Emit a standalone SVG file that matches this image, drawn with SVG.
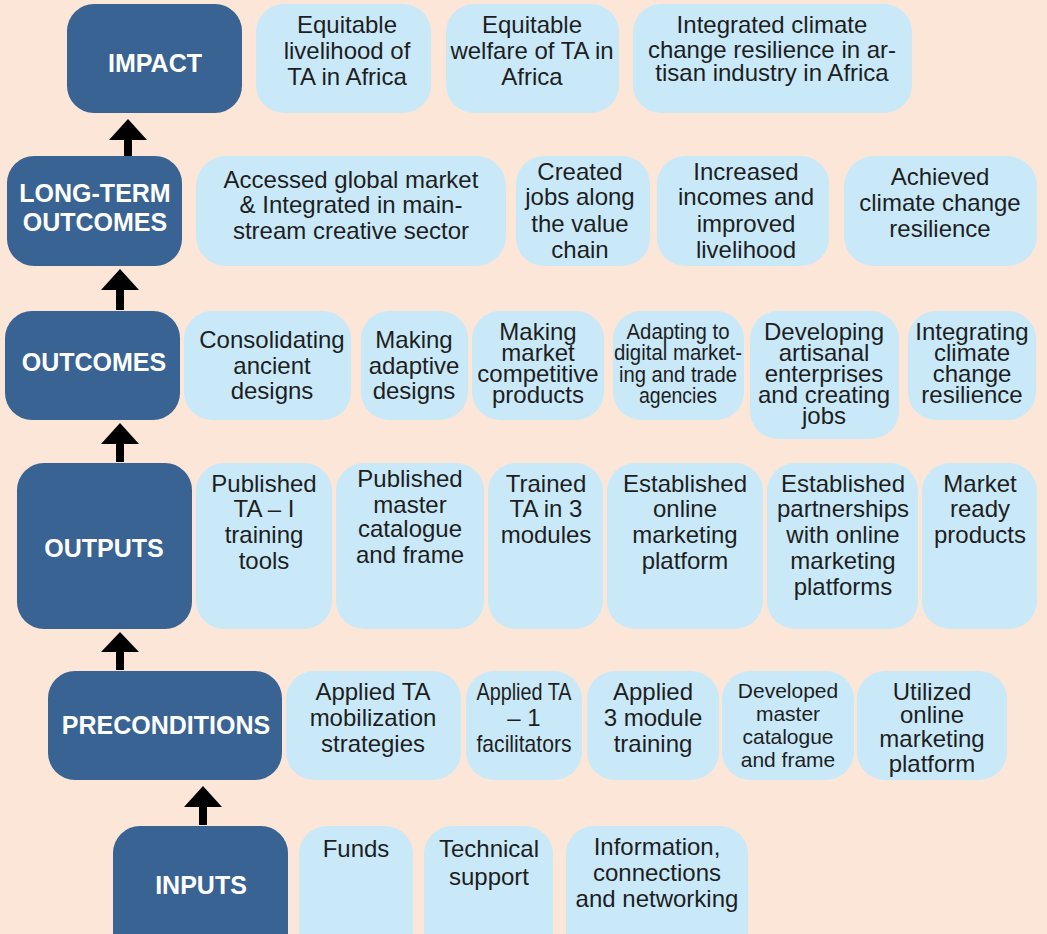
<svg xmlns="http://www.w3.org/2000/svg" width="1047" height="934" viewBox="0 0 1047 934">
<style>
.dk{fill:#386393}
.lt{fill:#C9E9F9}
.lbl{font-family:"Liberation Sans",Arial,sans-serif;font-weight:bold;font-size:25px;fill:#ffffff;text-anchor:middle}
.t{font-family:"Liberation Sans",Arial,sans-serif;font-size:24px;fill:#1e1e1e;text-anchor:middle}
.s{font-size:21px}
.arr{fill:#000000}
</style>
<rect x="0" y="0" width="1047" height="934" fill="#FBE6D8"/>

<g id="connectors">
<polygon class="arr" points="128,119 147,140 132,140 132,156 124,156 124,140 109,140"/>
<polygon class="arr" points="120,269 139,290 124,290 124,310 116,310 116,290 101,290"/>
<polygon class="arr" points="120,423 139,444 124,444 124,462 116,462 116,444 101,444"/>
<polygon class="arr" points="120,632 139,652 124,652 124,670 116,670 116,652 101,652"/>
<polygon class="arr" points="203,786 222,807 207,807 207,825 199,825 199,807 184,807"/>
</g>

<!-- IMPACT row -->
<g id="impact"><rect class="dk" x="67" y="4" width="175" height="109" rx="27"/><text class="lbl" x="155" y="72">IMPACT</text></g>
<g id="impact-1"><rect class="lt" x="256" y="4" width="175" height="109" rx="28"/><text class="t"><tspan x="347" y="33">Equitable</tspan><tspan x="347" y="59">livelihood of</tspan><tspan x="347" y="85">TA in Africa</tspan></text></g>
<g id="impact-2"><rect class="lt" x="446" y="4" width="173" height="109" rx="28"/><text class="t"><tspan x="532" y="33">Equitable</tspan><tspan x="532" y="59">welfare of TA in</tspan><tspan x="532" y="85">Africa</tspan></text></g>
<g id="impact-3"><rect class="lt" x="633" y="4" width="279" height="109" rx="28"/><text class="t"><tspan x="772" y="33">Integrated climate</tspan><tspan x="772" y="58">change resilience in ar-</tspan><tspan x="772" y="81">tisan industry in Africa</tspan></text></g>

<!-- LONG-TERM OUTCOMES row -->
<g id="long-term-outcomes"><rect class="dk" x="7" y="156" width="175" height="110" rx="27"/><text class="lbl"><tspan x="95" y="202">LONG-TERM</tspan><tspan x="95" y="231">OUTCOMES</tspan></text></g>
<g id="lto-1"><rect class="lt" x="196" y="156" width="310" height="110" rx="30"/><text class="t"><tspan x="351" y="188">Accessed global market</tspan><tspan x="351" y="213">&amp; Integrated in main-</tspan><tspan x="351" y="239">stream creative sector</tspan></text></g>
<g id="lto-2"><rect class="lt" x="516" y="156" width="134" height="110" rx="28"/><text class="t"><tspan x="580" y="180">Created</tspan><tspan x="580" y="205">jobs along</tspan><tspan x="580" y="232">the value</tspan><tspan x="580" y="258">chain</tspan></text></g>
<g id="lto-3"><rect class="lt" x="657" y="156" width="172" height="110" rx="28"/><text class="t"><tspan x="746" y="180">Increased</tspan><tspan x="746" y="205">incomes and</tspan><tspan x="746" y="232">improved</tspan><tspan x="746" y="258">livelihood</tspan></text></g>
<g id="lto-4"><rect class="lt" x="844" y="156" width="193" height="110" rx="30"/><text class="t"><tspan x="940" y="185">Achieved</tspan><tspan x="940" y="211">climate change</tspan><tspan x="940" y="237">resilience</tspan></text></g>

<!-- OUTCOMES row -->
<g id="outcomes"><rect class="dk" x="5" y="311" width="175" height="109" rx="27"/><text class="lbl" x="94" y="371">OUTCOMES</text></g>
<g id="oc-1"><rect class="lt" x="184" y="311" width="167" height="109" rx="28"/><text class="t"><tspan x="272" y="348">Consolidating</tspan><tspan x="272" y="374">ancient</tspan><tspan x="272" y="399">designs</tspan></text></g>
<g id="oc-2"><rect class="lt" x="361" y="311" width="107" height="109" rx="28"/><text class="t"><tspan x="414" y="348">Making</tspan><tspan x="414" y="374">adaptive</tspan><tspan x="414" y="399">designs</tspan></text></g>
<g id="oc-3"><rect class="lt" x="472" y="311" width="132" height="109" rx="28"/><text class="t"><tspan x="538" y="340">Making</tspan><tspan x="538" y="361">market</tspan><tspan x="538" y="382">competitive</tspan><tspan x="538" y="403">products</tspan></text></g>
<g id="oc-4"><rect class="lt" x="613" y="311" width="131" height="109" rx="28"/><text class="t" style="font-size:22px"><tspan x="678" y="339" textLength="103" lengthAdjust="spacingAndGlyphs">Adapting to</tspan><tspan x="678" y="360" textLength="128" lengthAdjust="spacingAndGlyphs">digital market-</tspan><tspan x="678" y="382" textLength="118" lengthAdjust="spacingAndGlyphs">ing and trade</tspan><tspan x="678" y="403" textLength="78" lengthAdjust="spacingAndGlyphs">agencies</tspan></text></g>
<g id="oc-5"><rect class="lt" x="750" y="311" width="149" height="128" rx="28"/><text class="t"><tspan x="824" y="340">Developing</tspan><tspan x="824" y="361">artisanal</tspan><tspan x="824" y="382">enterprises</tspan><tspan x="824" y="403">and creating</tspan><tspan x="824" y="424">jobs</tspan></text></g>
<g id="oc-6"><rect class="lt" x="908" y="311" width="128" height="109" rx="28"/><text class="t"><tspan x="972" y="340">Integrating</tspan><tspan x="972" y="361">climate</tspan><tspan x="972" y="382">change</tspan><tspan x="972" y="403">resilience</tspan></text></g>

<!-- OUTPUTS row -->
<g id="outputs"><rect class="dk" x="17" y="463" width="175" height="166" rx="27"/><text class="lbl" x="104" y="557">OUTPUTS</text></g>
<g id="op-1"><rect class="lt" x="196" y="463" width="136" height="166" rx="28"/><text class="t"><tspan x="264" y="492">Published</tspan><tspan x="264" y="517">TA – I</tspan><tspan x="264" y="543">training</tspan><tspan x="264" y="569">tools</tspan></text></g>
<g id="op-2"><rect class="lt" x="336" y="463" width="148" height="166" rx="28"/><text class="t"><tspan x="410" y="487">Published</tspan><tspan x="410" y="513">master</tspan><tspan x="410" y="537">catalogue</tspan><tspan x="410" y="563">and frame</tspan></text></g>
<g id="op-3"><rect class="lt" x="488" y="463" width="115" height="166" rx="28"/><text class="t"><tspan x="546" y="492">Trained</tspan><tspan x="546" y="517">TA in 3</tspan><tspan x="546" y="543">modules</tspan></text></g>
<g id="op-4"><rect class="lt" x="607" y="463" width="156" height="166" rx="28"/><text class="t"><tspan x="685" y="492">Established</tspan><tspan x="685" y="517">online</tspan><tspan x="685" y="543">marketing</tspan><tspan x="685" y="569">platform</tspan></text></g>
<g id="op-5"><rect class="lt" x="767" y="463" width="151" height="166" rx="28"/><text class="t"><tspan x="843" y="492">Established</tspan><tspan x="843" y="517">partnerships</tspan><tspan x="843" y="543">with online</tspan><tspan x="843" y="569">marketing</tspan><tspan x="843" y="595">platforms</tspan></text></g>
<g id="op-6"><rect class="lt" x="922" y="463" width="115" height="166" rx="28"/><text class="t"><tspan x="980" y="492">Market</tspan><tspan x="980" y="517">ready</tspan><tspan x="980" y="543">products</tspan></text></g>

<!-- PRECONDITIONS row -->
<g id="preconditions"><rect class="dk" x="48" y="671" width="234" height="109" rx="27"/><text class="lbl" x="166" y="734">PRECONDITIONS</text></g>
<g id="pc-1"><rect class="lt" x="286" y="671" width="175" height="109" rx="28"/><text class="t"><tspan x="373" y="700">Applied TA</tspan><tspan x="373" y="726">mobilization</tspan><tspan x="373" y="752">strategies</tspan></text></g>
<g id="pc-2"><rect class="lt" x="466" y="671" width="116" height="109" rx="28"/><text class="t"><tspan x="524" y="700" textLength="95" lengthAdjust="spacingAndGlyphs">Applied TA</tspan><tspan x="524" y="726">– 1</tspan><tspan x="524" y="752" textLength="95" lengthAdjust="spacingAndGlyphs">facilitators</tspan></text></g>
<g id="pc-3"><rect class="lt" x="587" y="671" width="132" height="109" rx="28"/><text class="t"><tspan x="653" y="700">Applied</tspan><tspan x="653" y="726">3 module</tspan><tspan x="653" y="752">training</tspan></text></g>
<g id="pc-4"><rect class="lt" x="722" y="671" width="132" height="109" rx="28"/><text class="t s"><tspan x="788" y="698">Developed</tspan><tspan x="788" y="721">master</tspan><tspan x="788" y="744">catalogue</tspan><tspan x="788" y="767">and frame</tspan></text></g>
<g id="pc-5"><rect class="lt" x="857" y="671" width="150" height="109" rx="28"/><text class="t"><tspan x="932" y="700">Utilized</tspan><tspan x="932" y="723">online</tspan><tspan x="932" y="747">marketing</tspan><tspan x="932" y="772">platform</tspan></text></g>

<!-- INPUTS row -->
<g id="inputs"><rect class="dk" x="113" y="826" width="175" height="140" rx="27"/><text class="lbl" x="201" y="894">INPUTS</text></g>
<g id="in-1"><rect class="lt" x="299" y="826" width="114" height="140" rx="28"/><text class="t" x="356" y="857">Funds</text></g>
<g id="in-2"><rect class="lt" x="424" y="826" width="129" height="140" rx="28"/><text class="t"><tspan x="489" y="857">Technical</tspan><tspan x="489" y="885">support</tspan></text></g>
<g id="in-3"><rect class="lt" x="566" y="826" width="182" height="140" rx="28"/><text class="t"><tspan x="657" y="855">Information,</tspan><tspan x="657" y="881">connections</tspan><tspan x="657" y="907">and networking</tspan></text></g>
</svg>
